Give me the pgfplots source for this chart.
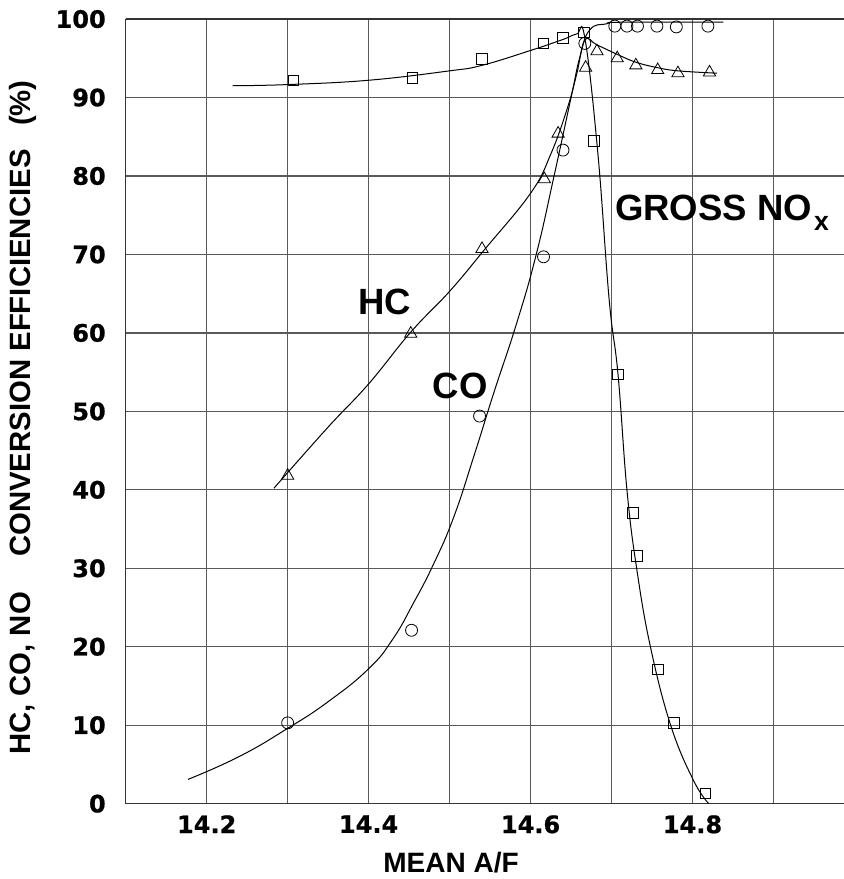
\documentclass[border=0pt]{standalone}
\usepackage{fontspec}
\usepackage{pgfplots}
\pgfplotsset{compat=1.18}
\setmainfont{Liberation Sans}
\newfontfamily\dvs{DejaVu Sans}[BoldFeatures={FakeBold=0.8}]

\begin{document}
\begin{tikzpicture}
% page = 844 x 879 px of the reference, 1 px = 0.75pt
\path[use as bounding box] (-94.3pt,-56.5pt) rectangle (538.7pt,602.8pt);
\begin{axis}[
    width=538.7pt, height=588.5pt, scale only axis,
    xmin=14.1, xmax=14.987, ymin=0, ymax=100,
    axis x line=box, axis y line=left,
    axis line style={-, black!80, line width=1pt},
    xtick={14.2,14.4,14.6,14.8},
    xticklabels={14.2,14.4,14.6,14.8},
    minor xtick={14.1,14.3,14.5,14.7,14.9},
    ytick={0,10,...,100},
    grid=both,
    major grid style={black!65, line width=0.9pt},
    minor grid style={black!65, line width=0.9pt},
    major tick length=0pt, minor tick length=0pt,
    /pgf/number format/assume math mode=true,
    ticklabel style={font=\dvs\bfseries\fontsize{18}{18}\selectfont},
    xticklabel style={anchor=north, inner sep=0pt, yshift=-8.5pt},
    yticklabel style={anchor=east, inner sep=0pt, xshift=-14.8pt},
    xlabel={MEAN A/F},
    xlabel style={font=\bfseries\fontsize{21}{21}\selectfont,
        at={(axis description cs:0.453,-0.075)}, anchor=center},
    ylabel={HC, CO, NO\hspace{1.2em}CONVERSION EFFICIENCIES\hspace{0.8em}(\%)},
    ylabel style={font=\bfseries\fontsize{22}{22}\selectfont,
        at={(axis description cs:-0.1437,0.492)}, anchor=center},
    clip=false,
]
% fitted curves
\addplot[black, line width=0.75pt, smooth, tension=0.7, no marks] coordinates {
    (14.232,91.5) (14.30,91.65) (14.40,92.2) (14.50,93.4) (14.54,94.1)
    (14.60,96.0) (14.64,97.4) (14.657,98.1) (14.667,97.6) (14.683,83)
    (14.697,64.3) (14.708,54.7) (14.719,40) (14.731,30) (14.748,20)
    (14.773,10) (14.801,3) (14.820,0)
};
\addplot[black, line width=0.75pt, smooth, tension=0.8, no marks] coordinates {
    (14.177,3.1) (14.24,6.0) (14.3,9.6) (14.35,13.0) (14.4,17.2)
    (14.43,21.0) (14.455,25.5) (14.48,30.5) (14.505,36.5) (14.53,44.3)
    (14.555,52.5) (14.583,61.3) (14.607,70) (14.629,80) (14.650,90) (14.661,95.2)
    (14.673,98.6) (14.694,99.4) (14.715,99.6) (14.838,99.6)
};
\addplot[black, line width=0.75pt, smooth, tension=0.7, no marks] coordinates {
    (14.283,40.2) (14.35,48.0) (14.4,53.5) (14.452,60.1) (14.5,65.3)
    (14.543,70.6) (14.6,77.8) (14.625,82.8) (14.645,88.5) (14.657,93.0)
    (14.667,97.3) (14.682,96.7) (14.707,95.5) (14.730,94.5) (14.757,93.8)
    (14.782,93.4) (14.830,93.1)
};
% data points
\addplot[only marks, mark=square, mark size=4pt, mark options={line width=0.6pt, black}] coordinates {
    (14.307,92.2) (14.454,92.5) (14.540,94.9) (14.616,96.9) (14.640,97.6)
    (14.666,98.3) (14.678,84.5) (14.708,54.7) (14.726,37.1) (14.731,31.6)
    (14.757,17.1) (14.777,10.3) (14.816,1.3)
};
\addplot[only marks, mark=o, mark size=4.5pt, mark options={line width=0.6pt, black}] coordinates {
    (14.300,10.3) (14.453,22.1) (14.537,49.4) (14.616,69.7) (14.640,83.3)
    (14.667,96.9) (14.704,99.1) (14.719,99.1) (14.732,99.1) (14.756,99.1)
    (14.780,99.0) (14.819,99.1)
};
\addplot[only marks, mark=triangle, mark size=5.3pt, mark options={line width=0.6pt, black}] coordinates {
    (14.300,41.8) (14.452,59.9) (14.540,70.7) (14.617,79.6) (14.634,85.4)
    (14.668,93.8) (14.682,95.9) (14.707,95.0) (14.730,94.1) (14.757,93.5)
    (14.782,93.1) (14.821,93.2)
};
\node[font=\bfseries\fontsize{27.4}{27.4}\selectfont] at (axis cs:14.42,64.0) {HC};
\node[font=\bfseries\fontsize{27.4}{27.4}\selectfont] at (axis cs:14.513,53.2) {CO};
\node[font=\bfseries\fontsize{27.4}{27.4}\selectfont, anchor=west, inner sep=0pt]
    at (axis cs:14.704,75.3) {GROSS NO\hspace{0.06em}\raisebox{-7pt}{\fontsize{20}{20}\selectfont x}};
\end{axis}
\end{tikzpicture}
\end{document}
